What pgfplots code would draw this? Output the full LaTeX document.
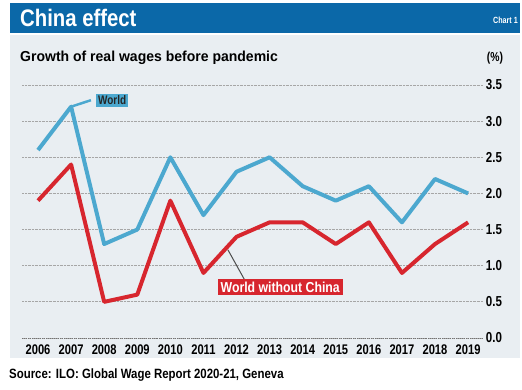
\documentclass[border=0pt]{standalone}
\usepackage{fontspec}
\setmainfont{Liberation Sans}[FakeStretch=0.85]
\newfontfamily\cond{Liberation Sans}[FakeStretch=0.8]
\newfontfamily\wide{Liberation Sans}[FakeStretch=0.97]
\usepackage{pgfplots}
\pgfplotsset{compat=1.18}
\definecolor{hdr}{HTML}{0B68A8}
\definecolor{panel}{HTML}{E9EEF2}
\definecolor{wblue}{HTML}{4CA8CF}
\definecolor{wred}{HTML}{D7262E}
\begin{document}
\begin{tikzpicture}[x=1bp,y=1bp]
\path[use as bounding box] (-22,-51) rectangle (500,338);
\fill[white] (-22,-51) rectangle (500,338);
\fill[hdr] (-12,305) rectangle (498,335);
\fill[panel] (-12,-20) rectangle (498,303);
\node[anchor=west,text=white,inner sep=0,font=\bfseries\fontsize{24}{24}\selectfont] at (-2,320) {China effect};
\node[anchor=east,text=white,inner sep=0,font=\cond\bfseries\fontsize{9}{9}\selectfont] at (496,318) {Chart 1};
\node[anchor=west,inner sep=0,font=\wide\bfseries\fontsize{14.5}{14.5}\selectfont] at (-2,280) {Growth of real wages before pandemic};
\node[anchor=center,inner sep=0,font=\cond\bfseries\fontsize{13}{13}\selectfont] at (473,280) {(\%)};
\node[anchor=west,inner sep=0,font=\bfseries\fontsize{13.5}{13.5}\selectfont] at (-13,-37) {Source: ILO: Global Wage Report 2020-21, Geneva};
\begin{axis}[
  scale only axis, width=461bp, height=253bp,
  xmin=2005.516, xmax=2019.45, ymin=0, ymax=3.5,
  clip=false,
  axis line style={draw=none},
  major tick length=0pt,
  xtick={2006,...,2019},
  ytick={0,0.5,...,3.5},
  yticklabel pos=right,
  ymajorgrids,
  grid style={densely dotted, gray!70, line width=0.8pt},
  /pgf/number format/assume math mode=true,
  xticklabel style={font=\cond\bfseries\fontsize{14}{14}\selectfont, /pgf/number format/1000 sep={}, anchor=center, yshift=-12bp},
  yticklabel style={font=\cond\bfseries\fontsize{14.5}{14.5}\selectfont, /pgf/number format/fixed, /pgf/number format/fixed zerofill, /pgf/number format/precision=1, anchor=center, xshift=11bp},
]
\draw[densely dotted, gray!90!black, line width=1pt] (axis cs:2005.516,0) -- (axis cs:2019.45,0);
\addplot[wblue, line width=4pt, line join=round] coordinates {
(2006,2.6) (2007,3.2) (2008,1.3) (2009,1.5) (2010,2.5) (2011,1.7) (2012,2.3)
(2013,2.5) (2014,2.1) (2015,1.9) (2016,2.1) (2017,1.6) (2018,2.2) (2019,2.0)};
\addplot[wred, line width=4pt, line join=round] coordinates {
(2006,1.9) (2007,2.4) (2008,0.5) (2009,0.6) (2010,1.9) (2011,0.9) (2012,1.4)
(2013,1.6) (2014,1.6) (2015,1.3) (2016,1.6) (2017,0.9) (2018,1.3) (2019,1.6)};
\draw[wblue, line width=2.5pt] (axis cs:2007,3.2) -- (axis cs:2007.6,3.29);
\node[fill=wblue, text=black!85, inner sep=2pt, font=\cond\bfseries\fontsize{12.5}{12.5}\selectfont] at (axis cs:2008.24,3.29) {World};
\draw[black!70, line width=1pt] (axis cs:2011.74,1.22) -- (axis cs:2012.25,0.8);
\node[fill=wred, text=white, inner sep=3pt, font=\bfseries\fontsize{14.5}{14.5}\selectfont] at (axis cs:2013.32,0.705) {World without China};
\end{axis}
\end{tikzpicture}
\end{document}
